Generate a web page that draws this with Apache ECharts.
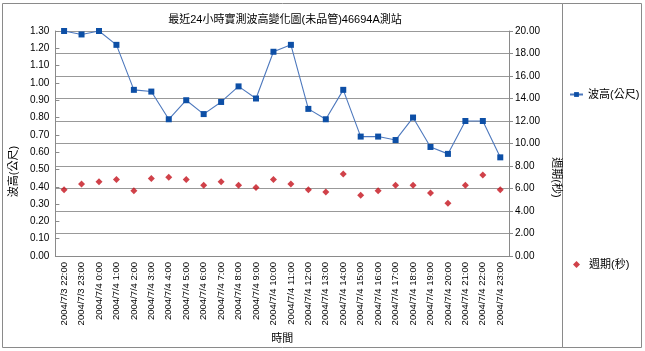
<!DOCTYPE html>
<html>
<head>
<meta charset="utf-8">
<script src="https://cdn.jsdelivr.net/npm/echarts@6/dist/echarts.min.js"></script>
<style>
  html, body { margin: 0; padding: 0; background: #fff; }
  #chart { width: 645px; height: 351px; }
</style>
</head>
<body>
<div id="chart"></div>
<script>
const times = [
  '2004/7/3 22:00', '2004/7/3 23:00',
  '2004/7/4 0:00', '2004/7/4 1:00', '2004/7/4 2:00', '2004/7/4 3:00',
  '2004/7/4 4:00', '2004/7/4 5:00', '2004/7/4 6:00', '2004/7/4 7:00',
  '2004/7/4 8:00', '2004/7/4 9:00', '2004/7/4 10:00', '2004/7/4 11:00',
  '2004/7/4 12:00', '2004/7/4 13:00', '2004/7/4 14:00', '2004/7/4 15:00',
  '2004/7/4 16:00', '2004/7/4 17:00', '2004/7/4 18:00', '2004/7/4 19:00',
  '2004/7/4 20:00', '2004/7/4 21:00', '2004/7/4 22:00', '2004/7/4 23:00'
]

// 波高(公尺)
const waveHeight = [
  1.30, 1.28, 1.30, 1.22, 0.96, 0.95, 0.79, 0.90, 0.82, 0.89,
  0.98, 0.91, 1.18, 1.22, 0.85, 0.79, 0.96, 0.69, 0.69, 0.67,
  0.80, 0.63, 0.59, 0.78, 0.78, 0.57
]

// 週期(秒)
const wavePeriod = [
  5.9, 6.4, 6.6, 6.8, 5.8, 6.9, 7.0, 6.8, 6.3, 6.6,
  6.3, 6.1, 6.8, 6.4, 5.9, 5.7, 7.3, 5.4, 5.8, 6.3,
  6.3, 5.6, 4.7, 6.3, 7.2, 5.9
]

const fontFamily = '"Liberation Sans", Arial, "Noto Sans CJK TC", sans-serif'
const gray = '#8a8a8a'

const chart = echarts.init(document.getElementById('chart'))

const option = {
  backgroundColor: '#fff',
  textStyle: { fontFamily: fontFamily, color: '#000' },
  title: {
    text: '最近24小時實測波高變化圖(未品管)46694A測站',
    left: 280,
    top: 9,
    textAlign: 'center',
    textStyle: { fontSize: 11, fontWeight: 'normal', color: '#000', fontFamily: fontFamily }
  },
  legend: [
    {
      left: 564,
      top: 84,
      itemWidth: 13,
      itemHeight: 6,
      textStyle: { fontSize: 11, color: '#000', fontFamily: fontFamily },
      data: ['波高(公尺)']
    },
    {
      left: 568,
      top: 254,
      itemWidth: 7,
      itemHeight: 7,
      textStyle: { fontSize: 11, color: '#000', fontFamily: fontFamily, padding: [0, 0, 0, 4] },
      data: ['週期(秒)']
    }
  ],
  grid: {
    left: 49,
    right: 136,
    top: 31,
    bottom: 95,
    containLabel: false
  },
  xAxis: {
    type: 'category',
    data: times,
    name: '時間',
    nameLocation: 'middle',
    nameGap: 76,
    nameTextStyle: { fontSize: 11, color: '#000' },
    axisLine: { lineStyle: { color: gray } },
    axisTick: { inside: true, length: 4, alignWithLabel: true, lineStyle: { color: gray } },
    axisLabel: { rotate: 90, fontSize: 9.5, margin: 6, color: '#000', interval: 0 }
  },
  yAxis: [
    {
      type: 'value',
      min: 0,
      max: 1.3,
      interval: 0.1,
      name: '波高(公尺)',
      nameLocation: 'middle',
      nameGap: 30,
      nameTextStyle: { fontSize: 11, color: '#000', padding: [0, 56, 0, 0] },
      axisLine: { show: true, lineStyle: { color: gray } },
      axisTick: { show: true, inside: true, length: 4, lineStyle: { color: gray } },
      axisLabel: { fontSize: 10, margin: 6, color: '#000', formatter: v => v.toFixed(2) },
      splitLine: { show: false }
    },
    {
      type: 'value',
      position: 'right',
      min: 0,
      max: 20,
      interval: 2,
      name: '週期(秒)',
      nameLocation: 'middle',
      nameRotate: -90,
      nameGap: 36,
      nameTextStyle: { fontSize: 11, color: '#000', padding: [0, 0, 0, 68] },
      axisLine: { show: true, lineStyle: { color: gray } },
      axisTick: { show: true, length: 4, lineStyle: { color: gray } },
      axisLabel: { fontSize: 10, margin: 6, color: '#000', formatter: v => v.toFixed(2) },
      splitLine: { show: true, lineStyle: { color: '#999', width: 1 } }
    }
  ],
  series: [
    {
      name: '波高(公尺)',
      type: 'line',
      yAxisIndex: 0,
      data: waveHeight,
      symbol: 'rect',
      symbolSize: 6,
      lineStyle: { color: '#4d78bd', width: 1.1 },
      itemStyle: { color: '#0d4fa6' }
    },
    {
      name: '週期(秒)',
      type: 'scatter',
      yAxisIndex: 1,
      data: wavePeriod,
      symbol: 'diamond',
      symbolSize: 7,
      itemStyle: { color: '#c4121c' }
    }
  ],
  graphic: [
    {
      type: 'rect',
      shape: { x: 2.5, y: 3.5, width: 560, height: 344 },
      style: { fill: 'none', stroke: gray, lineWidth: 1 },
      silent: true
    },
    {
      type: 'rect',
      shape: { x: 562.5, y: 3.5, width: 79, height: 344 },
      style: { fill: 'none', stroke: gray, lineWidth: 1 },
      silent: true
    }
  ]
}

chart.setOption(option)
</script>
</body>
</html>
